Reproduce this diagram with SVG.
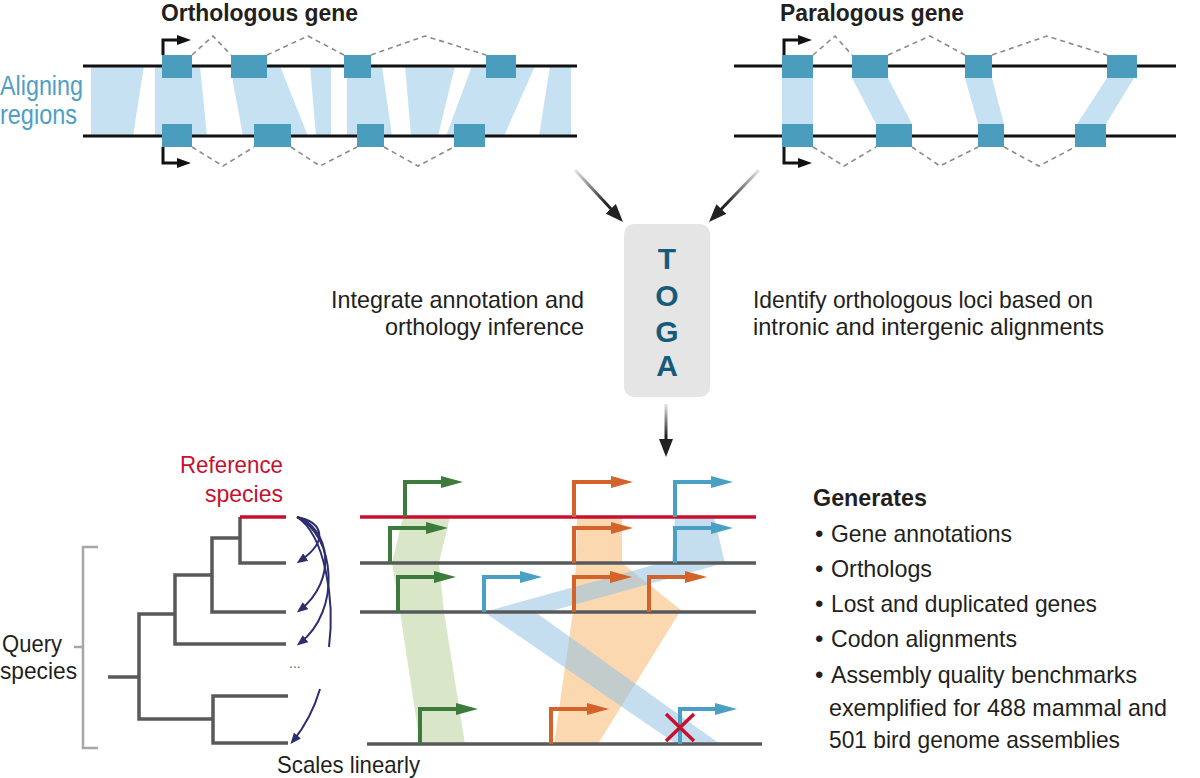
<svg xmlns="http://www.w3.org/2000/svg" width="1200" height="778" viewBox="0 0 1200 778">
<style>
.t{font-family:"Liberation Sans",Arial,sans-serif;fill:#231f20;font-size:24px}
.b{font-weight:bold}
.ln{stroke:#111;stroke-width:3;fill:none}
.intr{stroke:#8a8a8a;stroke-width:1.6;stroke-dasharray:5 4;fill:none}
.exon{fill:#4b9dbe}
.aln{fill:#c6e2f2}
.prom{stroke:#111;stroke-width:3;fill:none;marker-end:url(#hBlack)}
.tree{stroke:#58595b;stroke-width:3.5;fill:none}
.gl{stroke:#58595b;stroke-width:3.5}
.red{stroke:#c8102e;stroke-width:3.5}
.g{stroke:#3d7b3c;stroke-width:4;fill:none;marker-end:url(#hGreen)}
.o{stroke:#d4622b;stroke-width:4;fill:none;marker-end:url(#hOrange)}
.bl{stroke:#4aa0c4;stroke-width:4;fill:none;marker-end:url(#hBlue)}
.nav{stroke:#2b2d6e;stroke-width:2;fill:none}
.navA{marker-end:url(#hNavy)}
.shade{fill-opacity:0.55}
.toga{font-family:"Liberation Sans",Arial,sans-serif;font-weight:bold;font-size:30px;fill:#175b7a}
</style>
<defs>
<marker id="hBlack" markerUnits="userSpaceOnUse" markerWidth="14" markerHeight="10" refX="3" refY="5" orient="auto"><path d="M0,0 L14,5 L0,10 z" fill="#111"/></marker>
<marker id="hGreen" markerUnits="userSpaceOnUse" markerWidth="22" markerHeight="12" refX="14" refY="6" orient="auto"><path d="M0,0 L22,6 L0,12 z" fill="#3d7b3c"/></marker>
<marker id="hOrange" markerUnits="userSpaceOnUse" markerWidth="22" markerHeight="12" refX="14" refY="6" orient="auto"><path d="M0,0 L22,6 L0,12 z" fill="#d4622b"/></marker>
<marker id="hBlue" markerUnits="userSpaceOnUse" markerWidth="22" markerHeight="12" refX="14" refY="6" orient="auto"><path d="M0,0 L22,6 L0,12 z" fill="#4aa0c4"/></marker>
<marker id="hNavy" markerUnits="userSpaceOnUse" markerWidth="11" markerHeight="9" refX="7" refY="4.5" orient="auto"><path d="M0,0 L11,4.5 L0,9 z" fill="#2b2d6e"/></marker>
<marker id="hDark" markerUnits="userSpaceOnUse" markerWidth="18" markerHeight="14" refX="8" refY="7" orient="auto"><path d="M0,0 L18,7 L0,14 z" fill="#222"/></marker>
<linearGradient id="gL" gradientUnits="userSpaceOnUse" x1="575" y1="170" x2="616" y2="215"><stop offset="0" stop-color="#e6e6e6"/><stop offset="0.75" stop-color="#222"/></linearGradient>
<linearGradient id="gR" gradientUnits="userSpaceOnUse" x1="759" y1="170" x2="716" y2="215"><stop offset="0" stop-color="#e6e6e6"/><stop offset="0.75" stop-color="#222"/></linearGradient>
<linearGradient id="gD" gradientUnits="userSpaceOnUse" x1="666" y1="404" x2="666" y2="447"><stop offset="0" stop-color="#e6e6e6"/><stop offset="0.75" stop-color="#222"/></linearGradient>
</defs>

<g id="ortholog">
<text class="t b" x="161" y="21" textLength="197" lengthAdjust="spacingAndGlyphs">Orthologous gene</text>
<text class="t" x="0" y="95" style="font-size:28px;fill:#4f9fc4" textLength="83" lengthAdjust="spacingAndGlyphs">Aligning</text>
<text class="t" x="0" y="124" style="font-size:28px;fill:#4f9fc4" textLength="77" lengthAdjust="spacingAndGlyphs">regions</text>
<g class="aln">
<polygon points="91,66 144,66 133,136 91,136"/>
<polygon points="155,66 200,66 207,136 155,136"/>
<polygon points="230,66 280,66 308,136 243,136"/>
<polygon points="310,66 331,66 331,136 316,136"/>
<polygon points="347,66 382,66 392,136 347,136"/>
<polygon points="405,66 455,66 438,136 411,136"/>
<polygon points="472,66 535,66 504,136 446,136"/>
<polygon points="550,66 571,66 571,136 539,136"/>
</g>
<path class="ln" d="M83,66 H577 M83,136 H577"/>
<path class="intr" d="M192,55 L213,36 L231,55 M267,55 L308,36 L344,55 M371,55 L425,36 L486,55 M192,147 L223,166 L254,147 M291,147 L320,166 L357,147 M384,147 L418,166 L454,147"/>
<g class="exon">
<rect x="162" y="55" width="30" height="23"/><rect x="231" y="55" width="36" height="23"/><rect x="344" y="55" width="27" height="23"/><rect x="486" y="55" width="30" height="23"/>
<rect x="162" y="124" width="30" height="23"/><rect x="254" y="124" width="37" height="23"/><rect x="357" y="124" width="27" height="23"/><rect x="454" y="124" width="31" height="23"/>
</g>
<path class="prom" d="M163,55 V40 H180"/>
<path class="prom" d="M163,147 V163 H180"/>
</g>

<g id="paralog">
<text class="t b" x="780" y="21" textLength="184" lengthAdjust="spacingAndGlyphs">Paralogous gene</text>
<g class="aln">
<polygon points="782,78 813,78 813,124 782,124"/>
<polygon points="852,78 888,78 912,124 876,124"/>
<polygon points="965,78 992,78 1004,124 978,124"/>
<polygon points="1107,78 1134,78 1106,124 1077,124"/>
</g>
<path class="ln" d="M734,66 H1176 M734,136 H1176"/>
<path class="intr" d="M813,55 L835,36 L852,55 M888,55 L930,36 L965,55 M992,55 L1047,36 L1107,55 M813,147 L844,166 L876,147 M912,147 L940,166 L978,147 M1004,147 L1039,166 L1075,147"/>
<g class="exon">
<rect x="782" y="55" width="31" height="23"/><rect x="852" y="55" width="36" height="23"/><rect x="965" y="55" width="27" height="23"/><rect x="1107" y="55" width="30" height="23"/>
<rect x="782" y="124" width="31" height="23"/><rect x="876" y="124" width="36" height="23"/><rect x="978" y="124" width="26" height="23"/><rect x="1075" y="124" width="31" height="23"/>
</g>
<path class="prom" d="M784,55 V40 H801"/>
<path class="prom" d="M784,147 V163 H801"/>
</g>

<g id="toga">
<rect x="624" y="224" width="86" height="173" rx="10" fill="#e5e5e5"/>
<text class="toga" x="667" y="269" text-anchor="middle">T</text>
<text class="toga" x="667" y="306" text-anchor="middle">O</text>
<text class="toga" x="667" y="342" text-anchor="middle">G</text>
<text class="toga" x="667" y="376" text-anchor="middle">A</text>
</g>

<g id="labels-middle">
<text class="t" x="331" y="308" textLength="253" lengthAdjust="spacingAndGlyphs">Integrate annotation and</text>
<text class="t" x="385" y="335" textLength="199" lengthAdjust="spacingAndGlyphs">orthology inference</text>
<text class="t" x="753" y="308" textLength="340" lengthAdjust="spacingAndGlyphs">Identify orthologous loci based on</text>
<text class="t" x="753" y="335" textLength="351" lengthAdjust="spacingAndGlyphs">intronic and intergenic alignments</text>
</g>

<g id="connectors">
<path d="M575,170 L616.2,214.6" stroke="url(#gL)" stroke-width="3" fill="none" marker-end="url(#hDark)"/>
<path d="M759,170 L715.9,214.8" stroke="url(#gR)" stroke-width="3" fill="none" marker-end="url(#hDark)"/>
<path d="M666,404 L666,447" stroke="url(#gD)" stroke-width="3" fill="none" marker-end="url(#hDark)"/>
</g>

<g id="tree">
<text class="t" x="180" y="473" style="fill:#c8102e" textLength="103" lengthAdjust="spacingAndGlyphs">Reference</text>
<text class="t" x="205" y="502" style="fill:#c8102e" textLength="78" lengthAdjust="spacingAndGlyphs">species</text>
<path d="M98,547 H83 V748 H98 M74,647 H83" stroke="#a7a7a7" stroke-width="2.5" fill="none"/>
<text class="t" x="2" y="652" textLength="60" lengthAdjust="spacingAndGlyphs">Query</text>
<text class="t" x="0" y="679" textLength="77" lengthAdjust="spacingAndGlyphs">species</text>
<path class="tree" d="M286,563 H240 V517 M240,538 H212 V612 H286 M212,575 H175 V644 H286 M175,614 H139 V719 H213 M108,677 H139 M288,696 H213 V743 H288"/>
<path d="M240,517 H286" class="red"/>
<text class="t" x="289" y="668" style="font-size:14px;fill:#666">...</text>
<path class="nav navA" d="M297,517 C322,522 330,540 300,561"/>
<path class="nav navA" d="M297,517 C330,528 338,580 300,610"/>
<path class="nav navA" d="M297,517 C335,535 342,610 300,643"/>
<path class="nav" d="M297,517 C325,535 335,600 329,647"/>
<path class="nav navA" d="M320,689 C315,706 306,725 293,741"/>
<text class="t" x="277" y="773" textLength="143" lengthAdjust="spacingAndGlyphs">Scales linearly</text>
</g>

<g id="alignment">
<polygon class="shade" fill="#bad39b" points="403,517 450,517 439,563 444,612 465,744 420,744 400,612 392,563"/>
<polygon class="shade" fill="#f8b86f" points="577,517 622,517 622,563 681,610 598,744 554,744 573,612 576,563"/>
<polygon class="shade" fill="#94c3e4" points="675,517 714,517 725,563 548,612 484,612 661,563 672,563"/>
<polygon class="shade" fill="#94c3e4" points="484,612 535,612 720,744 676,744"/>
<path class="red" d="M360,517 H756"/>
<path class="gl" d="M360,563 H756 M360,612 H756 M367,744 H762"/>
<path class="g" d="M405,517 V482 H455"/>
<path class="g" d="M390,563 V528 H440"/>
<path class="g" d="M398,612 V577 H448"/>
<path class="g" d="M420,744 V709 H470"/>
<path class="o" d="M574,517 V482 H625"/>
<path class="o" d="M574,563 V528 H625"/>
<path class="o" d="M574,612 V577 H624"/>
<path class="o" d="M649,612 V577 H699"/>
<path class="o" d="M551,744 V709 H601"/>
<path class="bl" d="M675,517 V482 H725"/>
<path class="bl" d="M675,563 V528 H725"/>
<path class="bl" d="M484,612 V577 H534"/>
<path class="bl" d="M680,744 V709 H729"/>
<path d="M666,714 L694,741 M666,741 L694,714" stroke="#c8102e" stroke-width="3.5"/>
</g>

<g id="generates">
<text class="t b" x="813" y="506" textLength="114" lengthAdjust="spacingAndGlyphs">Generates</text>
<g>
<text class="t" x="815" y="542">•</text><text class="t" x="831" y="542" textLength="181" lengthAdjust="spacingAndGlyphs">Gene annotations</text>
<text class="t" x="815" y="577">•</text><text class="t" x="831" y="577" textLength="101" lengthAdjust="spacingAndGlyphs">Orthologs</text>
<text class="t" x="815" y="612">•</text><text class="t" x="831" y="612" textLength="266" lengthAdjust="spacingAndGlyphs">Lost and duplicated genes</text>
<text class="t" x="815" y="647">•</text><text class="t" x="831" y="647" textLength="186" lengthAdjust="spacingAndGlyphs">Codon alignments</text>
<text class="t" x="815" y="683">•</text><text class="t" x="831" y="683" textLength="306" lengthAdjust="spacingAndGlyphs">Assembly quality benchmarks</text>
<text class="t" x="829" y="716" textLength="338" lengthAdjust="spacingAndGlyphs">exemplified for 488 mammal and</text>
<text class="t" x="829" y="748" textLength="291" lengthAdjust="spacingAndGlyphs">501 bird genome assemblies</text>
</g>
</g>
</svg>
